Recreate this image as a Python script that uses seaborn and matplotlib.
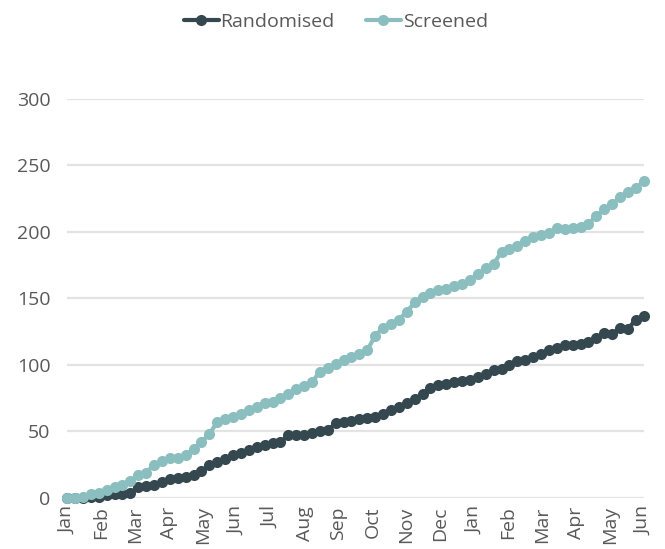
import numpy as np
import pandas as pd
import seaborn as sns
import matplotlib.pyplot as plt

# weekly cumulative counts, Jan (year 1) to Jun (year 2)
randomised = [0, 0, 0, 1, 1, 2, 3, 3, 4, 8,
              9, 10, 12, 14, 15, 16, 17, 20, 25, 27,
              29, 32, 34, 36, 38, 40, 41, 42, 47, 47,
              47, 49, 50, 51, 56, 57, 58, 59, 60, 61,
              63, 66, 68, 71, 74, 78, 83, 85, 86, 87,
              88, 89, 91, 93, 96, 97, 100, 103, 104, 106,
              108, 111, 113, 115, 115, 116, 117, 120, 124, 123,
              128, 127, 134, 137]
screened = [0, 0, 1, 3, 4, 6, 8, 10, 13, 17,
            19, 25, 28, 30, 30, 32, 37, 42, 48, 57,
            59, 61, 63, 66, 68, 71, 72, 75, 78, 82,
            84, 87, 95, 98, 101, 104, 106, 108, 111, 122,
            128, 131, 134, 140, 147, 151, 154, 156, 157, 159,
            161, 164, 168, 173, 176, 185, 187, 189, 193, 196,
            198, 199, 203, 202, 203, 204, 206, 212, 217, 221,
            226, 230, 233, 238]
month_labels = ['Jan', 'Feb', 'Mar', 'Apr', 'May', 'Jun', 'Jul', 'Aug', 'Sep',
                'Oct', 'Nov', 'Dec', 'Jan', 'Feb', 'Mar', 'Apr', 'May', 'Jun']

weeks = np.arange(len(randomised))
df = pd.concat([
    pd.DataFrame({'week': weeks, 'count': randomised, 'series': 'Randomised'}),
    pd.DataFrame({'week': weeks, 'count': screened, 'series': 'Screened'}),
])

sns.set_style('white')
plt.rcParams['font.family'] = ['Open Sans', 'DejaVu Sans']

fig = plt.figure(figsize=(6.65, 5.49), dpi=100)
ax = fig.add_axes([0.101, 0.093, 0.867, 0.727])

sns.lineplot(data=df, x='week', y='count', hue='series',
             palette={'Randomised': '#35484f', 'Screened': '#8bbfbf'},
             marker='o', markersize=8, markeredgewidth=0, linewidth=3,
             ax=ax, clip_on=False, zorder=3)

ax.set_xlim(0, weeks[-1])
ax.set_ylim(0, 300)
ax.set_yticks(range(0, 301, 50))
ax.set_xticks(np.linspace(0, weeks[-1], len(month_labels)))
ax.set_xticklabels(month_labels, rotation=90)
ax.tick_params(axis='both', labelsize=14, colors='#595959', length=0)
ax.tick_params(axis='y', pad=12)
ax.tick_params(axis='x', pad=6)
ax.set_xlabel('')
ax.set_ylabel('')
ax.yaxis.grid(True, color='#e3e3e3', linewidth=1.6)
ax.set_axisbelow(True)
sns.despine(ax=ax, left=True, bottom=True)

handles, labels = ax.get_legend_handles_labels()
ax.legend(handles, labels, loc='center', bbox_to_anchor=(0.505, 0.96),
          bbox_transform=fig.transFigure, ncol=2, frameon=False,
          fontsize=14, labelcolor='#595959', handlelength=1.8,
          handletextpad=0.1, columnspacing=1.6)

fig.savefig('out.png', dpi=100)
